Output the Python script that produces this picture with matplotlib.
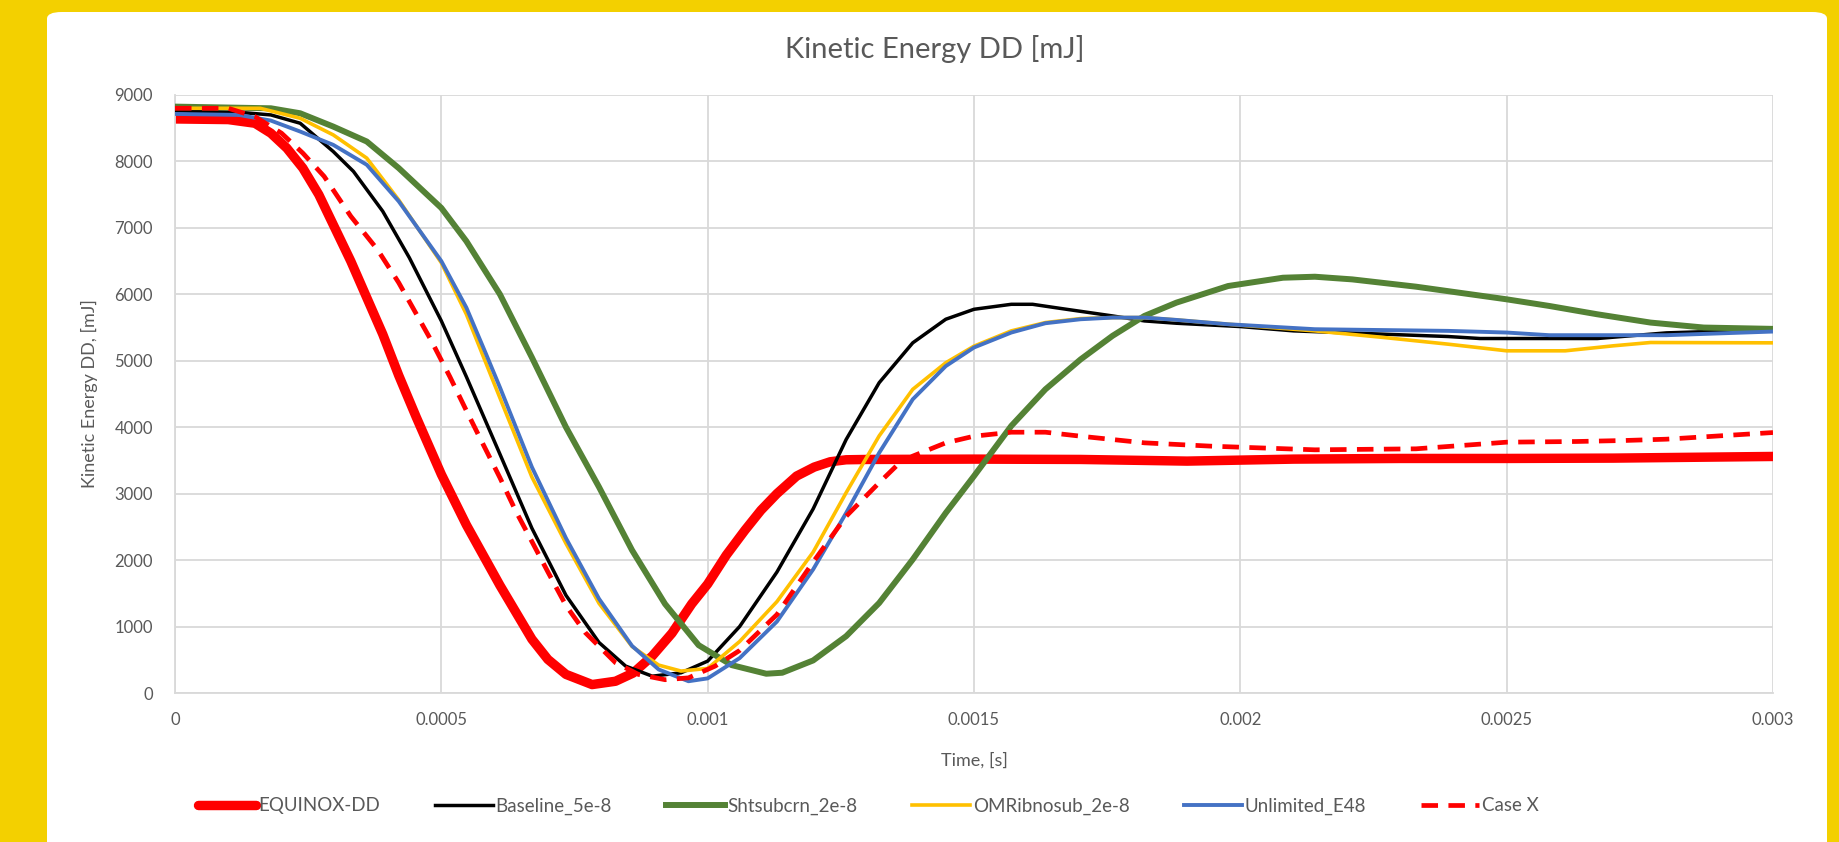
import numpy as np
import matplotlib
matplotlib.use("Agg")
import matplotlib.pyplot as plt
from matplotlib.patches import FancyBboxPatch

plt.rcParams['font.family'] = ['Lato', 'DejaVu Sans']

# ---- data (time in s, energy in mJ) ----
t_equinox = [0, 0.0001, 0.00015, 0.00018, 0.00021, 0.00024, 0.00027, 0.0003, 0.00033,
             0.00036, 0.00039, 0.00042, 0.000453, 0.0005, 0.000547, 0.00061, 0.00067,
             0.0007, 0.000734, 0.000783, 0.000827, 0.00086, 0.000896, 0.000933, 0.00097,
             0.001, 0.001035, 0.00107, 0.0011, 0.00113, 0.001167, 0.0012, 0.00123,
             0.00126, 0.0013, 0.0015, 0.0017, 0.0019, 0.0021, 0.0023, 0.0025, 0.0027, 0.003]
ke_equinox = [8640, 8630, 8575, 8425, 8200, 7900, 7500, 7000, 6500,
              5950, 5400, 4780, 4150, 3290, 2530, 1620, 810,
              506, 280, 127, 177, 300, 557, 900, 1340,
              1640, 2075, 2450, 2750, 3000, 3265, 3400, 3480,
              3510, 3515, 3520, 3515, 3490, 3520, 3530, 3530, 3535, 3560]

t_baseline = [0, 0.00012, 0.00018, 0.000235, 0.000297, 0.000335, 0.00039, 0.00044, 0.0005,
              0.000547, 0.00061, 0.00067, 0.000734, 0.000796, 0.000846, 0.000896, 0.00095,
              0.001, 0.00106, 0.00113, 0.001198, 0.00126, 0.001322, 0.001385, 0.001447,
              0.0015, 0.00157, 0.00161, 0.001665, 0.00176, 0.00182, 0.00188, 0.002,
              0.0021, 0.00227, 0.00239, 0.00245, 0.00258, 0.00267, 0.0028, 0.003]
ke_baseline = [8760, 8740, 8700, 8575, 8150, 7850, 7250, 6550, 5600,
               4760, 3595, 2480, 1470, 760, 405, 253, 304,
               480, 1000, 1820, 2770, 3815, 4670, 5270, 5625,
               5775, 5850, 5850, 5785, 5675, 5600, 5565, 5515,
               5450, 5400, 5365, 5335, 5335, 5335, 5420, 5470]

t_shtsub = [0, 0.00018, 0.000235, 0.000297, 0.00036, 0.00042, 0.0005, 0.000547, 0.00061,
            0.00067, 0.000734, 0.000796, 0.000858, 0.00092, 0.000983, 0.001045, 0.00111,
            0.00114, 0.001198, 0.00126, 0.001322, 0.001385, 0.001447, 0.0015, 0.00157,
            0.001634, 0.0017, 0.00176, 0.00182, 0.00188, 0.001977, 0.00208, 0.00214,
            0.00221, 0.00233, 0.0025, 0.00258, 0.00267, 0.00277, 0.00287, 0.003]
ke_shtsub = [8825, 8800, 8725, 8525, 8300, 7900, 7300, 6800, 6000,
             5050, 4000, 3100, 2150, 1340, 720, 420, 290,
             305, 490, 855, 1355, 2010, 2710, 3265, 4020,
             4570, 5020, 5375, 5675, 5875, 6125, 6250, 6265,
             6225, 6115, 5925, 5825, 5700, 5575, 5500, 5480]

t_omr = [0, 0.00016, 0.000235, 0.000297, 0.00036, 0.00042, 0.0005, 0.000547, 0.000597,
         0.00067, 0.000734, 0.000796, 0.000858, 0.000908, 0.00095, 0.001, 0.00106,
         0.00113, 0.001198, 0.00126, 0.001322, 0.001385, 0.001447, 0.0015, 0.00157,
         0.001634, 0.0017, 0.00176, 0.00182, 0.00188, 0.001977, 0.00214, 0.00227,
         0.00239, 0.0025, 0.00261, 0.0027, 0.00277, 0.003]
ke_omr = [8800, 8800, 8650, 8400, 8050, 7420, 6475, 5700, 4700,
          3250, 2250, 1350, 700, 420, 330, 370, 775,
          1375, 2120, 3015, 3870, 4570, 4970, 5220, 5450,
          5575, 5635, 5650, 5650, 5615, 5550, 5450, 5350,
          5250, 5150, 5150, 5225, 5275, 5270]

t_unlim = [0, 0.00012, 0.00018, 0.000235, 0.000297, 0.00036, 0.00042, 0.0005, 0.000547,
           0.000584, 0.00061, 0.00067, 0.000734, 0.000796, 0.000858, 0.000908, 0.000964,
           0.001, 0.00106, 0.00113, 0.001198, 0.00126, 0.001322, 0.001385, 0.001447,
           0.0015, 0.00157, 0.001634, 0.0017, 0.00176, 0.00182, 0.00188, 0.001977,
           0.00214, 0.00239, 0.0025, 0.00258, 0.0028, 0.003]
ke_unlim = [8715, 8700, 8615, 8450, 8250, 7950, 7400, 6500, 5800,
            5100, 4600, 3400, 2330, 1418, 709, 354, 177,
            220, 525, 1075, 1860, 2710, 3615, 4420, 4920,
            5200, 5425, 5565, 5625, 5650, 5650, 5615, 5550,
            5475, 5450, 5425, 5385, 5385, 5440]

t_casex = [0, 0.0001, 0.00015, 0.0002, 0.00024, 0.00028, 0.00033, 0.00038, 0.00042,
           0.00048, 0.000516, 0.000547, 0.000578, 0.00061, 0.00064, 0.00067, 0.0007,
           0.000734, 0.00077, 0.000827, 0.00087, 0.00092, 0.000964, 0.001014, 0.00106,
           0.00113, 0.001198, 0.00126, 0.001322, 0.001354, 0.001385, 0.001416, 0.001447,
           0.0015, 0.00157, 0.001634, 0.0017, 0.00176, 0.00182, 0.001945, 0.00214,
           0.00233, 0.0025, 0.00263, 0.00272, 0.0028, 0.003]
ke_casex = [8800, 8800, 8675, 8425, 8125, 7775, 7175, 6675, 6175,
            5320, 4760, 4250, 3750, 3240, 2734, 2280, 1823,
            1316, 911, 456, 280, 200, 228, 405, 640,
            1180, 1970, 2660, 3165, 3415, 3565, 3665, 3765,
            3865, 3925, 3925, 3865, 3815, 3765, 3715, 3660,
            3675, 3775, 3785, 3800, 3820, 3920]

x_ticks = [0, 0.0005, 0.001, 0.0015, 0.002, 0.0025, 0.003]
x_ticklabels = ["0", "0.0005", "0.001", "0.0015", "0.002", "0.0025", "0.003"]
y_ticks = [0, 1000, 2000, 3000, 4000, 5000, 6000, 7000, 8000, 9000]

text_col = "#595959"
grid_col = "#D9D9D9"

fig = plt.figure(figsize=(18.39, 8.42), dpi=100)
fig.patch.set_facecolor("#F3D000")

# white chart panel with rounded corners
panel = FancyBboxPatch((47 / 1839, -0.05), (1827 - 47) / 1839, 1.05 - 12 / 842,
                       boxstyle="round,pad=0,rounding_size=0.008",
                       transform=fig.transFigure, facecolor="white",
                       edgecolor="none", zorder=-1)
fig.patches.append(panel)

ax = fig.add_axes([175 / 1839, 1 - 693 / 842, (1773 - 175) / 1839, (693 - 95) / 842])
ax.set_zorder(1)
ax.set_facecolor("none")

ax.plot(t_equinox, ke_equinox, color="#FF0000", lw=6.8, label="EQUINOX-DD",
        solid_capstyle="round", solid_joinstyle="round", zorder=2)
ax.plot(t_baseline, ke_baseline, color="#000000", lw=2.5, label="Baseline_5e-8",
        solid_joinstyle="round", zorder=3)
ax.plot(t_shtsub, ke_shtsub, color="#548235", lw=4.3, label="Shtsubcrn_2e-8",
        solid_joinstyle="round", zorder=4)
ax.plot(t_omr, ke_omr, color="#FFC000", lw=2.6, label="OMRibnosub_2e-8",
        solid_joinstyle="round", zorder=5)
ax.plot(t_unlim, ke_unlim, color="#4472C4", lw=2.8, label="Unlimited_E48",
        solid_joinstyle="round", zorder=6)
ax.plot(t_casex, ke_casex, color="#FF0000", lw=3.4, ls=(0, (3.5, 2.2)), label="Case X",
        zorder=7)

ax.set_xlim(0, 0.003)
ax.set_ylim(0, 9000)
ax.set_xticks(x_ticks)
ax.set_xticklabels(x_ticklabels)
ax.set_yticks(y_ticks)
ax.grid(True, color=grid_col, lw=1.3, zorder=0)
ax.set_axisbelow(True)
for s in ["top", "right"]:
    ax.spines[s].set_visible(False)
for s in ["left", "bottom"]:
    ax.spines[s].set_color(grid_col)
    ax.spines[s].set_linewidth(1.3)
ax.tick_params(length=0, colors=text_col, labelsize=12, pad=14)
ax.tick_params(axis="y", pad=16)

ax.set_xlabel("Time, [s]", color=text_col, fontsize=13, labelpad=17)
ax.set_ylabel("Kinetic Energy DD, [mJ]", color=text_col, fontsize=13, labelpad=12)
fig.text(935 / 1839, 1 - 49 / 842, "Kinetic Energy DD [mJ]", color=text_col,
         fontsize=21, ha="center", va="center")

leg = fig.legend(loc="center", bbox_to_anchor=(868 / 1839, 1 - 806 / 842), ncol=6,
                 frameon=False, fontsize=13.5, handlelength=3.1, handletextpad=0.15,
                 columnspacing=2.9)
for txt in leg.get_texts():
    txt.set_color(text_col)

fig.savefig("out.png", dpi=100, facecolor=fig.get_facecolor())
